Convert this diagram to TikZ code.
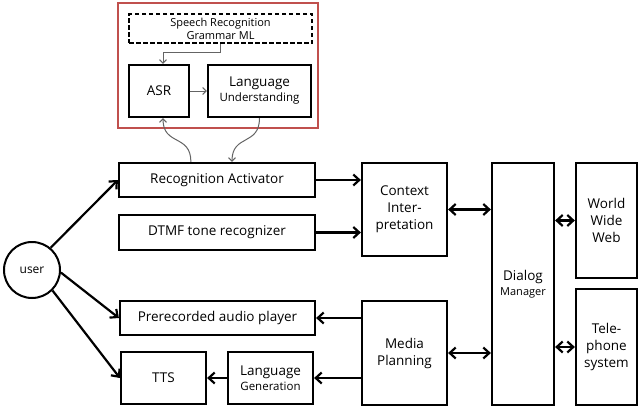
\documentclass[tikz,border=0pt]{standalone}
\usepackage{fontspec}
\setmainfont{Open Sans}
\usetikzlibrary{arrows.meta,calc}
\definecolor{redframe}{RGB}{192,80,77}
\definecolor{thingray}{RGB}{100,100,100}
\begin{document}
\begin{tikzpicture}[x=1pt,y=-1pt,
  box/.style={draw, line width=2.2pt, inner sep=0pt, align=center, font=\fontsize{13.5}{17}\selectfont},
  tip/.style={Straight Barb[length=6pt,width=11pt,line width=2.2pt]},
  conn/.style={line width=2.2pt, -{Straight Barb[length=6pt,width=11pt,line width=2.2pt]}},
  biconn/.style={line width=2.2pt, {Straight Barb[length=6pt,width=11pt,line width=2.2pt]}-{Straight Barb[length=6pt,width=11pt,line width=2.2pt]}},
  thinconn/.style={draw=thingray, line width=1pt, -{Straight Barb[length=3.5pt,width=7pt]}}
]
\useasboundingbox (0,0) rectangle (638,407);

% top recognition group
\node[draw=redframe, line width=1.8pt, minimum width=200pt, minimum height=125pt] (grp) at (218,65.5) {};
\node[draw, dashed, dash pattern=on 4.5pt off 2.5pt, line width=1.8pt, minimum width=183pt, minimum height=29pt, inner sep=0pt, align=center, font=\fontsize{11}{13}\selectfont] (srg) at (220.5,28.5) {Speech Recognition\\Grammar ML};
\node[box, minimum width=60pt, minimum height=52pt] (asr) at (159,91) {ASR};
\node[box, minimum width=103pt, minimum height=52pt] (lu) at (259.5,91) {Language\\[-2pt]{\fontsize{11.5}{14}\selectfont Understanding}};

% left column
\node[draw, circle, line width=2pt, minimum size=56pt, inner sep=0pt, font=\fontsize{12}{14}\selectfont] (user) at (32,270) {user};
\node[box, minimum width=196pt, minimum height=34pt] (ra) at (217,180) {Recognition Activator};
\node[box, minimum width=196pt, minimum height=35pt] (dtmf) at (217,232.5) {DTMF tone recognizer};
\node[box, minimum width=195pt, minimum height=34pt] (pre) at (217.5,318) {Prerecorded audio player};
\node[box, minimum width=85pt, minimum height=52pt] (tts) at (163.5,378) {TTS};
\node[box, minimum width=85pt, minimum height=52pt] (lg) at (270.5,378) {Language\\[-2pt]{\fontsize{11.5}{14}\selectfont Generation}};

% middle and right
\node[box, minimum width=85pt, minimum height=93pt] (ctx) at (404.5,209.5) {Context\\Inter-\\pretation};
\node[box, minimum width=85pt, minimum height=104pt] (mp) at (404.5,353) {Media\\Planning};
\node[box, minimum width=62pt, minimum height=242pt] (dm) at (523,284) {Dialog\\[-2pt]{\fontsize{11}{13}\selectfont Manager}};
\node[box, minimum width=61pt, minimum height=115pt] (www) at (606.5,220.5) {World\\Wide\\Web};
\node[box, minimum width=61pt, minimum height=116pt] (tel) at (606.5,347) {Tele-\\phone\\system};

% thin connectors in the group
\draw[thinconn] (srg.south) -- ++(0,9) -| ($(asr.north)+(4,0)$);
\draw[thinconn] (asr.east) -- (lu.west);
\coordinate (raA) at ($(ra.north west)+(73,0)$);
\coordinate (raB) at ($(ra.north)+(15,0)$);
\coordinate (asrB) at ($(asr.south)+(4,0)$);
\draw[thinconn] (raA) .. controls ($(raA)+(0,-28)$) and ($(asrB)+(0,28)$) .. (asrB);
\draw[thinconn] (lu.south) .. controls ($(lu.south)+(0,28)$) and ($(raB)+(0,-28)$) .. (raB);

% user connectors
\draw[conn] (user.50) -- (ra.west);
\draw[conn] (user.-5) -- (pre.west);
\draw[conn] (user.-45) -- (tts.west);

% main connectors
\draw[conn] (ra.east) -- (ctx.west |- ra.east);
\draw[conn] (dtmf.east) -- (ctx.west |- dtmf.east);
\draw[conn] (mp.west |- pre.east) -- (pre.east);
\draw[conn] (mp.west |- lg.east) -- (lg.east);
\draw[conn] (lg.west) -- (tts.east);
\draw[biconn] (ctx.east) -- (dm.west |- ctx.east);
\draw[biconn] (mp.east) -- (dm.west |- mp.east);
\draw[biconn] (dm.east |- www.west) -- (www.west);
\draw[biconn] (dm.east |- tel.west) -- (tel.west);
\end{tikzpicture}
\end{document}
